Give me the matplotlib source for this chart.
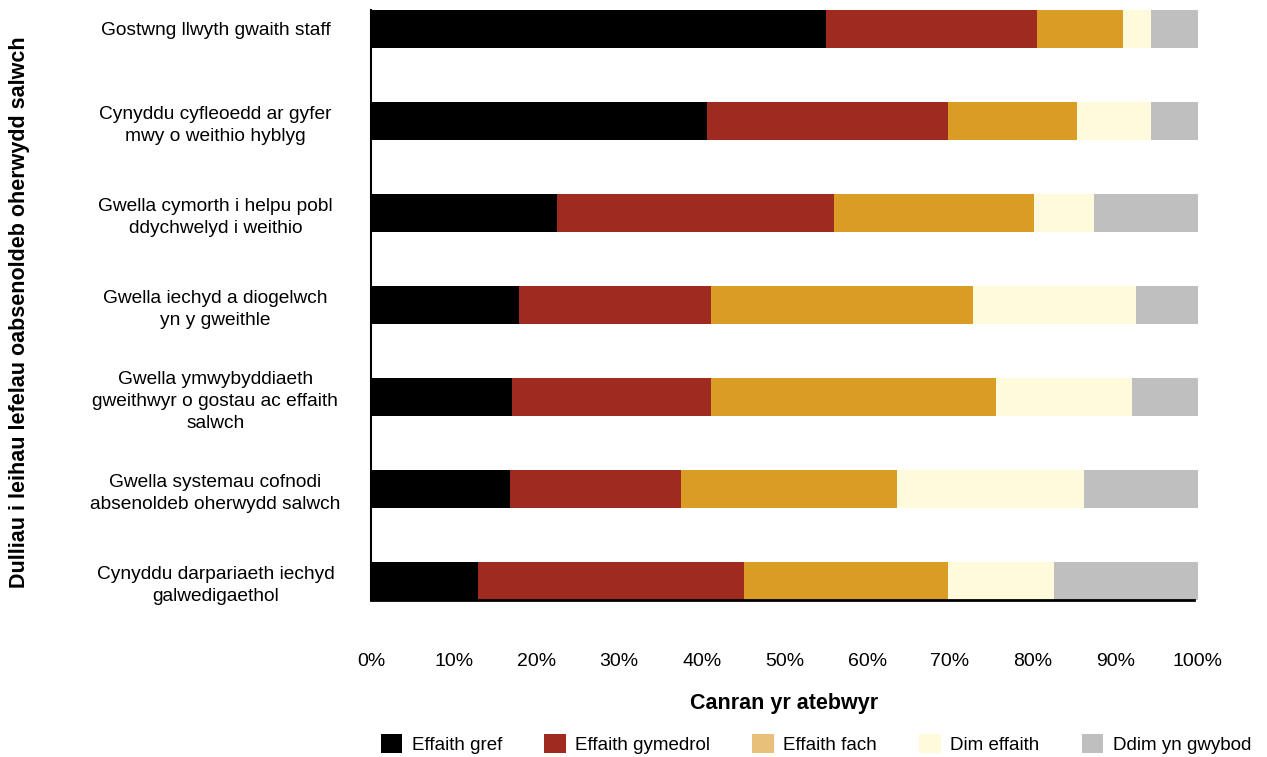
import matplotlib
import numpy as np

matplotlib.use("Agg")
import matplotlib.pyplot as plt
from matplotlib.patches import Patch

plt.rcParams["font.family"] = ["Liberation Sans", "DejaVu Sans"]

# Survey results: share of respondents per impact level, per method
methods = [
    "Gostwng llwyth gwaith staff",
    "Cynyddu cyfleoedd ar gyfer\nmwy o weithio hyblyg",
    "Gwella cymorth i helpu pobl\nddychwelyd i weithio",
    "Gwella iechyd a diogelwch\nyn y gweithle",
    "Gwella ymwybyddiaeth\ngweithwyr o gostau ac effaith\nsalwch",
    "Gwella systemau cofnodi\nabsenoldeb oherwydd salwch",
    "Cynyddu darpariaeth iechyd\ngalwedigaethol",
]
levels = ["Effaith gref", "Effaith gymedrol", "Effaith fach", "Dim effaith", "Ddim yn gwybod"]

strong = [55.0, 40.6, 22.5, 17.9, 17.0, 16.8, 12.9]
moderate = [25.5, 29.2, 33.5, 23.2, 24.1, 20.7, 32.2]
small = [10.4, 15.6, 24.2, 31.7, 34.5, 26.1, 24.7]
none_ = [3.4, 8.9, 7.2, 19.7, 16.4, 22.6, 12.8]
dont_know = [5.7, 5.7, 12.6, 7.5, 8.0, 13.8, 17.4]

bar_colors = ["#000000", "#9E2A20", "#D99D26", "#FFFADC", "#BFBFBF"]
legend_colors = ["#000000", "#9E2A20", "#E8C07A", "#FFFADC", "#BFBFBF"]

fig = plt.figure(figsize=(12.67, 7.57), dpi=100)
ax = fig.add_axes([0.2928, 0.2074, 0.6527, 0.786])

y = np.arange(len(methods))
left = np.zeros(len(methods))
for vals, color in zip([strong, moderate, small, none_, dont_know], bar_colors):
    vals = np.array(vals)
    ax.barh(y, vals, left=left, height=0.41, color=color, edgecolor="none")
    left += vals

ax.set_xlim(0, 100)
ax.set_ylim(6.207, -0.26)
ax.set_xticks(np.arange(0, 101, 10))
ax.set_xticklabels([f"{v}%" for v in range(0, 101, 10)], fontsize=14)
ax.set_yticks(y)
ax.set_yticklabels(methods, fontsize=13.8, ha="center", linespacing=1.4)
ax.tick_params(axis="y", length=0, pad=112)
ax.tick_params(axis="x", length=0, pad=38)

for side in ["top", "right"]:
    ax.spines[side].set_visible(False)
ax.spines["left"].set_linewidth(1.5)
ax.spines["left"].set_bounds(6.207, -0.205)
ax.spines["bottom"].set_linewidth(2)
ax.spines["bottom"].set_bounds(0, 99.5)

ax.set_xlabel("Canran yr atebwyr", fontsize=15.5, fontweight="bold", labelpad=17)
fig.text(0.015, 0.588, "Dulliau i leihau lefelau oabsenoldeb oherwydd salwch",
         rotation=90, fontsize=15.5, fontweight="bold", ha="center", va="center")

handles = [Patch(facecolor=c, edgecolor="none") for c in legend_colors]
fig.legend(handles, levels, loc="center", bbox_to_anchor=(0.644, 0.017), ncol=5,
           frameon=False, fontsize=13.5, handlelength=1.15, handleheight=1.15,
           handletextpad=0.5, columnspacing=2.25)

fig.savefig("out.png", dpi=100)
